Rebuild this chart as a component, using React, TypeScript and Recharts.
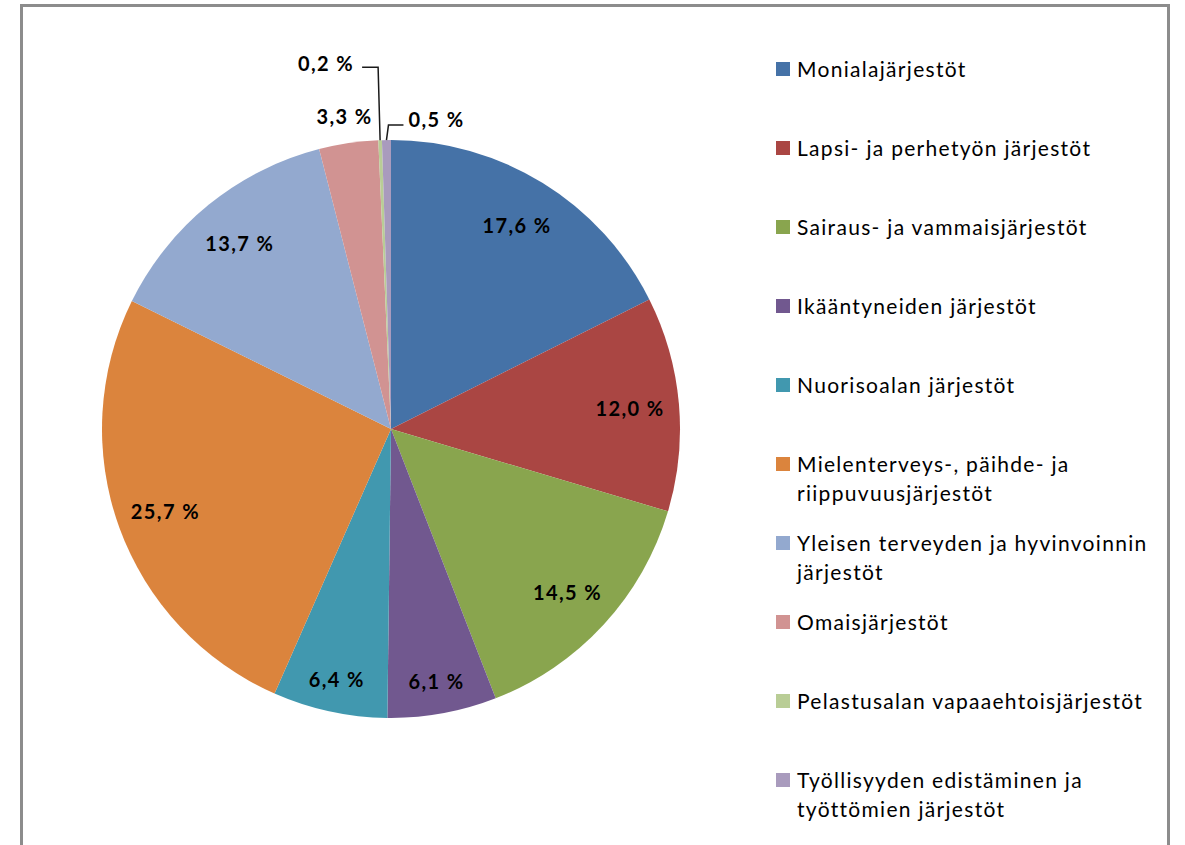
import { PieChart, Pie, Cell, Legend } from "recharts";

const categories = [
  "Monialajärjestöt",
  "Lapsi- ja perhetyön järjestöt",
  "Sairaus- ja vammaisjärjestöt",
  "Ikääntyneiden järjestöt",
  "Nuorisoalan järjestöt",
  "Mielenterveys-, päihde- ja riippuvuusjärjestöt",
  "Yleisen terveyden ja hyvinvoinnin järjestöt",
  "Omaisjärjestöt",
  "Pelastusalan vapaaehtoisjärjestöt",
  "Työllisyyden edistäminen ja työttömien järjestöt",
];

const shares = [17.6, 12.0, 14.5, 6.1, 6.4, 25.7, 13.7, 3.3, 0.2, 0.5];

const colors = [
  "#4572A7",
  "#AA4643",
  "#89A54E",
  "#71588F",
  "#4198AF",
  "#DB843D",
  "#93A9CF",
  "#D19392",
  "#B9CD96",
  "#A99BBD",
];

const data = categories.map((name, i) => ({ name, value: shares[i] }));

const FONT = "Lato, 'Open Sans', sans-serif";
const RAD = Math.PI / 180;
const fmt = (v: number) => v.toFixed(1).replace(".", ",") + " %";

const labelStyle = {
  fontFamily: FONT,
  fontSize: 20,
  fontWeight: 700,
  letterSpacing: 1.4,
  fill: "#000",
};

function renderLabel(props: any) {
  const { cx, cy, midAngle, outerRadius, percent, value } = props;
  const cos = Math.cos(-midAngle * RAD);
  const sin = Math.sin(-midAngle * RAD);

  // big slices: label inside
  if (percent >= 0.05) {
    const r = percent < 0.08 ? outerRadius - 33 : outerRadius - 49;
    return (
      <text
        x={cx + r * cos}
        y={cy + r * sin}
        textAnchor="middle"
        dominantBaseline="central"
        {...labelStyle}
      >
        {fmt(value)}
      </text>
    );
  }

  // small slice: just outside
  if (percent >= 0.01) {
    const r = outerRadius + 27;
    return (
      <text
        x={cx + r * cos}
        y={cy + r * sin}
        textAnchor="middle"
        dominantBaseline="central"
        {...labelStyle}
      >
        {fmt(value)}
      </text>
    );
  }

  // tiny slices: leader lines going up
  const ex = cx + outerRadius * cos;
  const ey = cy + outerRadius * sin;
  if (value < 0.3) {
    const ty = ey - 73;
    const tx = ex - 18;
    return (
      <g>
        <polyline
          points={`${ex},${ey} ${ex - 2},${ty} ${tx},${ty}`}
          fill="none"
          stroke="#1a1a1a"
          strokeWidth={1.5}
        />
        <text
          x={tx - 8}
          y={ty - 4}
          textAnchor="end"
          dominantBaseline="central"
          {...labelStyle}
        >
          {fmt(value)}
        </text>
      </g>
    );
  }
  const ty = ey - 15;
  const tx = ex + 17;
  return (
    <g>
      <polyline
        points={`${ex},${ey} ${ex + 2},${ty} ${tx},${ty}`}
        fill="none"
        stroke="#1a1a1a"
        strokeWidth={1.5}
      />
      <text
        x={tx + 5}
        y={ty - 6}
        textAnchor="start"
        dominantBaseline="central"
        {...labelStyle}
      >
        {fmt(value)}
      </text>
    </g>
  );
}

function LegendBox() {
  return (
    <div
      style={{ fontFamily: FONT, fontSize: 21, letterSpacing: 1.3, color: "#000" }}
    >
      {categories.map((name, i) => (
        <div
          key={name}
          style={{ height: 79, display: "flex", alignItems: "flex-start" }}
        >
          <div
            style={{
              width: 14,
              height: 14,
              background: colors[i],
              marginTop: 8,
              marginRight: 7,
              flexShrink: 0,
            }}
          />
          <div style={{ width: 365, lineHeight: "29px" }}>{name}</div>
        </div>
      ))}
    </div>
  );
}

export default function App() {
  return (
    <div
      style={{
        position: "absolute",
        left: 0,
        top: 0,
        width: 1185,
        height: 845,
        overflow: "hidden",
        background: "#fff",
      }}
    >
      <div
        style={{
          position: "absolute",
          left: 20,
          top: 4,
          width: 1150,
          height: 900,
          border: "3px solid #8c8c8c",
          boxSizing: "border-box",
        }}
      />
      <div style={{ position: "absolute", left: 0, top: 0 }}>
        <PieChart width={1185} height={845}>
          <Pie
            data={data}
            dataKey="value"
            nameKey="name"
            cx={386}
            cy={424}
            outerRadius={289}
            startAngle={90}
            endAngle={-270}
            stroke="none"
            label={renderLabel}
            labelLine={false}
            isAnimationActive={false}
          >
            {data.map((entry, index) => (
              <Cell key={`cell-${index}`} fill={colors[index]} />
            ))}
          </Pie>
          <Legend
            content={() => <LegendBox />}
            layout="vertical"
            verticalAlign="top"
            align="right"
            wrapperStyle={{ position: "absolute", left: 776, top: 54, width: 400 }}
          />
        </PieChart>
      </div>
    </div>
  );
}
